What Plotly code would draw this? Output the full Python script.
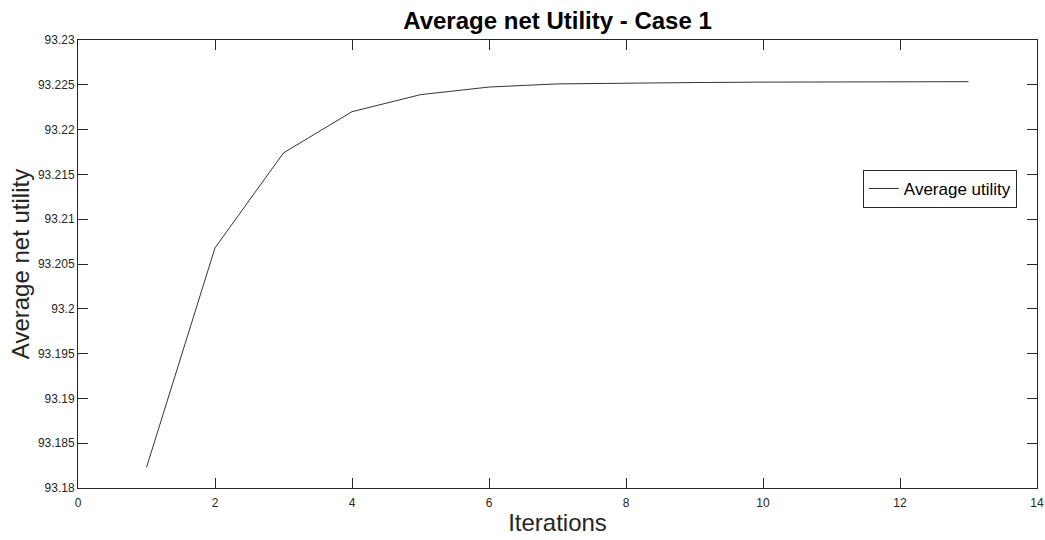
import plotly.graph_objects as go

iterations = [1, 2, 3, 4, 5, 6, 7, 8, 9, 10, 11, 12, 13]
avg_utility = [93.1823, 93.2068, 93.2174, 93.2220, 93.2239, 93.22475, 93.2251,
               93.2252, 93.22525, 93.2253, 93.22532, 93.22534, 93.22535]

x_ticks = [0, 2, 4, 6, 8, 10, 12, 14]
y_ticks = [93.18, 93.185, 93.19, 93.195, 93.2, 93.205, 93.21, 93.215, 93.22, 93.225, 93.23]
y_ticktext = ["93.18", "93.185", "93.19", "93.195", "93.2", "93.205", "93.21", "93.215", "93.22", "93.225", "93.23"]

FONT = "Liberation Sans, Arial"

fig = go.Figure()
fig.add_trace(go.Scatter(x=iterations, y=avg_utility, mode="lines",
                         name="Average utility",
                         line=dict(color="black", width=0.8)))

axis_common = dict(showline=True, mirror="ticks", linecolor="#262626", linewidth=1,
                   ticks="inside", ticklen=10, tickcolor="#262626", tickwidth=1,
                   showgrid=False, zeroline=False, automargin=False,
                   tickfont=dict(family=FONT, size=12, color="#262626"))

fig.update_layout(
    width=1045, height=540,
    margin=dict(l=78, r=8, t=40, b=52),
    paper_bgcolor="white", plot_bgcolor="white",
    title=dict(text="<b>Average net Utility - Case 1</b>", x=(78 + 1037) / 2 / 1045,
               xanchor="center", y=1 - 21 / 540, yanchor="middle",
               font=dict(family=FONT, size=24, color="black")),
    xaxis=dict(range=[0, 14], tickvals=x_ticks, ticklabelstandoff=4,
               title=dict(text="Iterations", standoff=4,
                          font=dict(family=FONT, size=24, color="#262626")),
               **axis_common),
    yaxis=dict(range=[93.18, 93.23], tickvals=y_ticks, ticktext=y_ticktext,
               title=dict(text="Average net utility", standoff=1,
                          font=dict(family=FONT, size=24, color="#262626")),
               **axis_common),
    showlegend=True,
    legend=dict(x=0.979, xanchor="right", y=0.71, yanchor="top",
                bordercolor="#262626", borderwidth=1, bgcolor="white",
                font=dict(family=FONT, size=17, color="black"),
                tracegroupgap=0, itemwidth=30),
)

fig.write_html("out.html")
